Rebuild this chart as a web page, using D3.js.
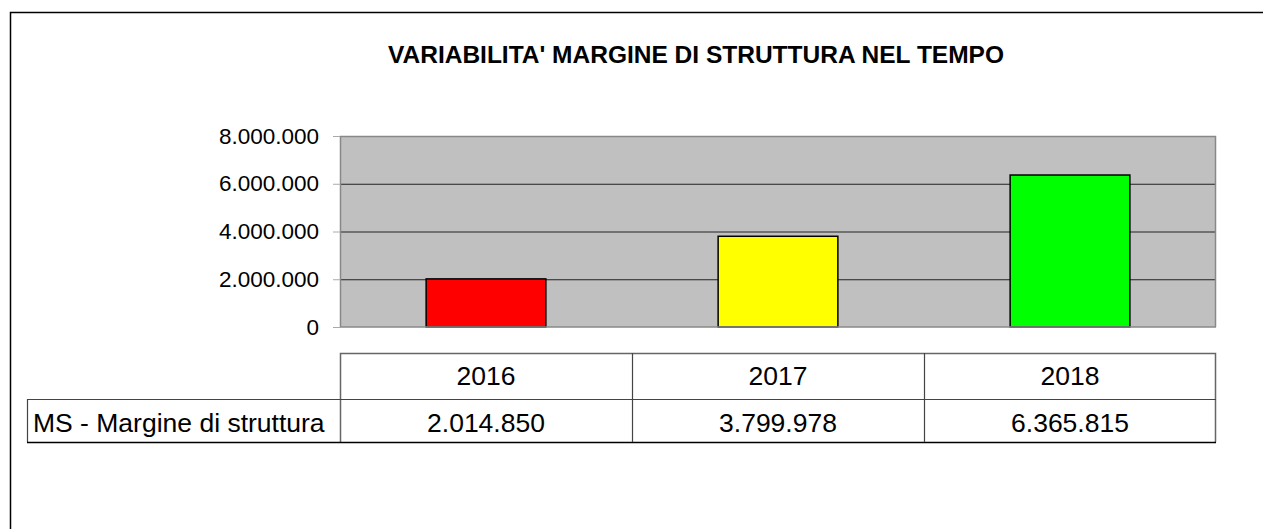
<!DOCTYPE html>
<head>
  <meta charset="utf-8">
  <script src='https://d3js.org/d3.v7.min.js'></script>
  <style>
    body {
      font-family: "Liberation Sans", Arial, sans-serif;
      margin: 0;
      background: #fff;
      overflow: hidden;
    }
    svg { display: block; }
  </style>
</head>

<body>
<div id='vis'></div>

<script>
const years = ['2016', '2017', '2018'];
const values = [2014850, 3799978, 6365815];
const barColours = ['#FF0000', '#FFFF00', '#00FF00'];
const yTicks = [0, 2000000, 4000000, 6000000, 8000000];
const seriesName = 'MS - Margine di struttura';
const title = "VARIABILITA' MARGINE DI STRUTTURA NEL TEMPO";

const width = 1263;
const height = 529;
const plot = { left: 340, right: 1216, top: 136, bottom: 327 };

const fmt = d3.formatLocale({ decimal: ',', thousands: '.', grouping: [3], currency: ['', ''] }).format(',d');

const svg = d3.select('#vis')
  .append('svg')
  .attr('width', width)
  .attr('height', height);

// outer frame, only top and left edges are in view
svg.append('path')
  .attr('d', `M10.5,${height}V12.5H${width}`)
  .attr('fill', 'none').attr('stroke', '#000').attr('stroke-width', 1.5);

svg.append('text')
  .attr('x', 696).attr('y', 63)
  .attr('text-anchor', 'middle')
  .style('font-size', '24.5px')
  .style('font-weight', 'bold')
  .text(title);

const x = d3.scaleBand()
  .domain(years)
  .range([plot.left, plot.right])
  .padding(0);

const y = d3.scaleLinear()
  .domain([0, 8000000])
  .range([plot.bottom, plot.top]);

// plot area
svg.append('rect')
  .attr('x', plot.left).attr('y', plot.top)
  .attr('width', plot.right - plot.left).attr('height', plot.bottom - plot.top)
  .attr('fill', '#C0C0C0');

svg.append('g')
  .selectAll('line')
  .data(yTicks.filter(d => d > 0 && d < 8000000))
  .join('line')
  .attr('x1', plot.left).attr('x2', plot.right)
  .attr('y1', d => y(d) + 0.5).attr('y2', d => y(d) + 0.5)
  .attr('stroke', '#222').attr('stroke-width', 1);

svg.append('path')
  .attr('d', `M${plot.left + 0.5},${plot.bottom}V${plot.top + 0.5}H${plot.right - 0.5}V${plot.bottom}`)
  .attr('fill', 'none').attr('stroke', '#888').attr('stroke-width', 1.5);

// y axis
const yAxis = svg.append('g')
  .attr('transform', `translate(${plot.left},0)`)
  .call(d3.axisLeft(y).tickValues(yTicks).tickFormat(fmt).tickSize(7).tickPadding(14));
yAxis.select('.domain').remove();
yAxis.selectAll('line').attr('stroke', '#aaa');
yAxis.selectAll('text')
  .attr('fill', '#000')
  .style('font-family', '"Liberation Sans", Arial, sans-serif')
  .style('font-size', '22.5px');

// bars
const barW = x.bandwidth() * 0.41;
svg.append('g')
  .selectAll('rect')
  .data(values)
  .join('rect')
  .attr('x', (d, i) => x(years[i]) + (x.bandwidth() - barW) / 2)
  .attr('y', d => y(d))
  .attr('width', barW)
  .attr('height', d => y(0) - y(d))
  .attr('fill', (d, i) => barColours[i])
  .attr('stroke', '#000').attr('stroke-width', 1.5);

svg.append('line')
  .attr('x1', plot.left).attr('x2', plot.right)
  .attr('y1', plot.bottom).attr('y2', plot.bottom)
  .attr('stroke', '#888').attr('stroke-width', 1.5);

// data table
const table = { top: 353, mid: 399, bottom: 442, labelLeft: 27 };
const tg = svg.append('g').attr('fill', 'none');

tg.append('path')
  .attr('d', `M${plot.left + 0.5},${table.bottom}V${table.top + 0.5}H${plot.right - 0.5}V${table.bottom}`)
  .attr('stroke', '#666').attr('stroke-width', 1.5);
tg.append('line')
  .attr('x1', table.labelLeft).attr('x2', plot.right)
  .attr('y1', table.mid + 0.5).attr('y2', table.mid + 0.5)
  .attr('stroke', '#444').attr('stroke-width', 1.2);
tg.append('line')
  .attr('x1', table.labelLeft + 0.5).attr('x2', table.labelLeft + 0.5)
  .attr('y1', table.mid).attr('y2', table.bottom)
  .attr('stroke', '#444').attr('stroke-width', 1.2);
tg.append('line')
  .attr('x1', table.labelLeft).attr('x2', plot.right)
  .attr('y1', table.bottom + 0.5).attr('y2', table.bottom + 0.5)
  .attr('stroke', '#000').attr('stroke-width', 1.5);
tg.selectAll('.col')
  .data(years.slice(1))
  .join('line')
  .attr('class', 'col')
  .attr('x1', d => x(d) + 0.5).attr('x2', d => x(d) + 0.5)
  .attr('y1', table.top).attr('y2', table.bottom)
  .attr('stroke', '#444').attr('stroke-width', 1.2);

svg.append('g')
  .selectAll('text')
  .data(years)
  .join('text')
  .attr('x', d => x(d) + x.bandwidth() / 2)
  .attr('y', 385)
  .attr('text-anchor', 'middle')
  .style('font-size', '26.5px')
  .text(d => d);

svg.append('g')
  .selectAll('text')
  .data(values)
  .join('text')
  .attr('x', (d, i) => x(years[i]) + x.bandwidth() / 2)
  .attr('y', 432)
  .attr('text-anchor', 'middle')
  .style('font-size', '26.5px')
  .text(d => fmt(d));

svg.append('text')
  .attr('x', 33).attr('y', 432)
  .style('font-size', '26.5px')
  .text(seriesName);
</script>
</body>
